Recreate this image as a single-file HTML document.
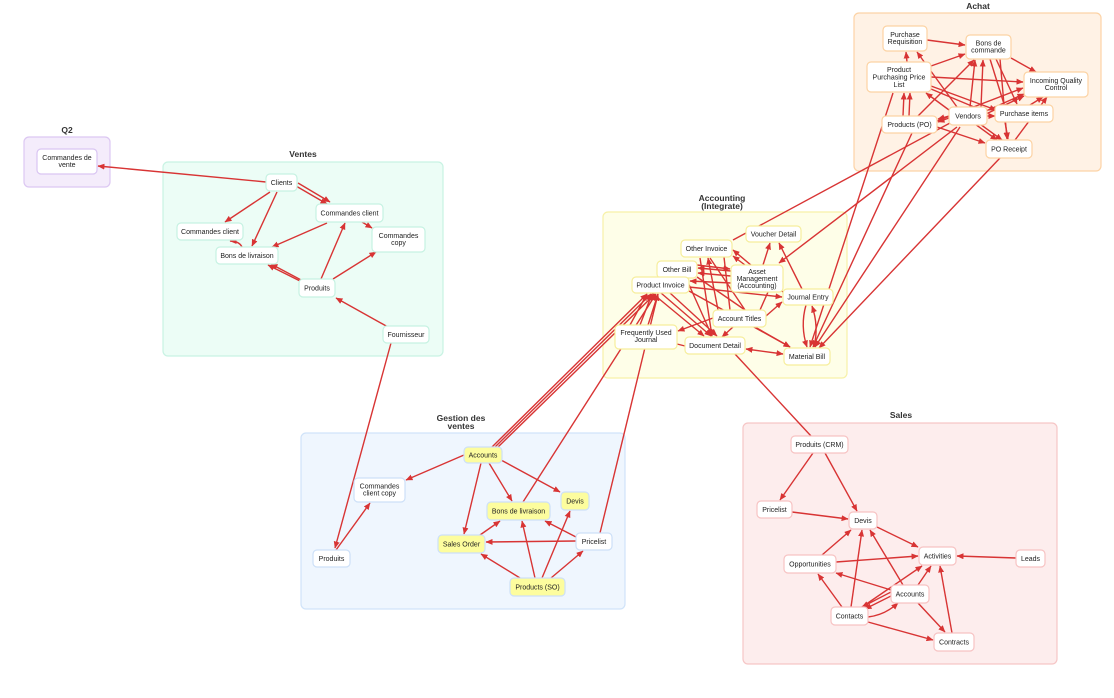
<!DOCTYPE html>
<html><head><meta charset="utf-8">
<style>
html,body{margin:0;padding:0;background:#fff;}
svg{display:block;}
text{font-family:"Liberation Sans",Arial,sans-serif;}
.n{font-size:7px;fill:#222;text-anchor:middle;}
.t{font-size:8.5px;font-weight:bold;fill:#333;text-anchor:middle;}
.e path{fill:none;stroke:#d83434;stroke-width:1.4;}
</style></head>
<body>
<svg width="1114" height="698" viewBox="0 0 1114 698" xmlns="http://www.w3.org/2000/svg">
<defs>
<marker id="a" markerUnits="userSpaceOnUse" markerWidth="7" markerHeight="6" refX="6.5" refY="3" orient="auto"><path d="M0,0 L7,3 L0,6 Z" fill="#d83434"/></marker>
<marker id="s" markerUnits="userSpaceOnUse" markerWidth="7" markerHeight="6" refX="0.5" refY="3" orient="auto"><path d="M7,0 L0,3 L7,6 Z" fill="#d83434"/></marker>
</defs>

<!-- groups -->
<rect x="24" y="137" width="86" height="50" rx="5" fill="#f4ecfb" stroke="#dcc7f2" stroke-width="1.2"/>
<text class="t" x="67" y="133">Q2</text>
<rect x="163" y="162" width="280" height="194" rx="5" fill="#ecfdf6" stroke="#c8f3e3" stroke-width="1.2"/>
<text class="t" x="303" y="157">Ventes</text>
<rect x="854" y="13" width="247" height="158" rx="5" fill="#fff2e5" stroke="#fcd3a6" stroke-width="1.2"/>
<text class="t" x="978" y="9">Achat</text>
<rect x="603" y="212" width="244" height="166" rx="5" fill="#fefee8" stroke="#f7f1a8" stroke-width="1.2"/>
<text class="t" x="722" y="201">Accounting</text>
<text class="t" x="722" y="209">(Integrate)</text>
<rect x="301" y="433" width="324" height="176" rx="5" fill="#eff6fe" stroke="#d0e3f9" stroke-width="1.2"/>
<text class="t" x="461" y="421">Gestion des</text>
<text class="t" x="461" y="429">ventes</text>
<rect x="743" y="423" width="314" height="241" rx="5" fill="#fdeded" stroke="#f6c6c6" stroke-width="1.2"/>
<text class="t" x="901" y="418">Sales</text>

<!-- edges with arrow -->
<g class="e" marker-end="url(#a)">
<!-- Ventes / Q2 -->
<path d="M266,182 L98,166"/>
<path d="M296,186 L327,204"/>
<path d="M298,183 L330,202"/>
<path d="M270,192 L225,222"/>
<path d="M277,192 L252,246"/>
<path d="M327,223 L272,247"/>
<path d="M362,222 L372,228"/>
<path d="M242,247 Q239,241 230,241"/>
<path d="M300,281 L268,265"/>
<path d="M303,281 L271,264"/>
<path d="M321,279 L345,223"/>
<path d="M333,279 L376,252"/>
<path d="M388,327 L336,298"/>
<path d="M391,343 L335,548"/>
<!-- Gestion -->
<path d="M464,455 L406,480"/>
<path d="M481,463 L464,534"/>
<path d="M489,463 L512,501"/>
<path d="M501,460 L560,492"/>
<path d="M480,535 L500,521"/>
<path d="M576,541 L486,542"/>
<path d="M576,537 L545,521"/>
<path d="M520,578 L481,554"/>
<path d="M535,578 L522,521"/>
<path d="M542,578 L570,511"/>
<path d="M551,578 L583,551"/>
<path d="M336,550 L370,503"/>
<path d="M492,447 L647,294"/>
<path d="M495,447 L651,294"/>
<path d="M498,447 L655,294"/>
<path d="M523,502 L656,294"/>
<path d="M600,533 L658,294"/>
<!-- Accounting -->
<path d="M763,265 L770,243"/>
<path d="M802,289 L779,243"/>
<path d="M783,292 L733,250"/>
<path d="M745,265 L733,256"/>
<path d="M731,271 L698,268"/>
<path d="M731,276 L698,273"/>
<path d="M697,265 L730,269"/>
<path d="M731,283 L690,281"/>
<path d="M689,287 L782,297"/>
<path d="M652,293 L704,336"/>
<path d="M661,293 L711,336"/>
<path d="M670,293 L717,336"/>
<path d="M689,291 L790,347"/>
<path d="M713,318 L678,331"/>
<path d="M733,327 L722,337"/>
<path d="M755,327 L790,347"/>
<path d="M766,316 L782,302"/>
<path d="M630,325 L647,294"/>
<path d="M640,325 L652,294"/>
<path d="M648,325 L658,294"/>
<path d="M806,305 Q800,326 807,347"/>
<path d="M814,347 Q819,326 812,306"/>
<path d="M686,278 L712,336"/>
<path d="M700,258 L712,336"/>
<path d="M718,310 L708,258"/>
<!-- Achat -> Accounting -->
<path d="M957,127 L779,263"/>
<path d="M893,93 L810,347"/>
<path d="M912,133 L813,347"/>
<path d="M960,127 L815,347"/>
<path d="M1000,158 L819,348"/>
<!-- Achat internal -->
<path d="M927,40 L965,45"/>
<path d="M907,62 L906,52"/>
<path d="M931,66 L965,54"/>
<path d="M931,77 L1023,82"/>
<path d="M931,86 L996,110"/>
<path d="M957,107 L917,52"/>
<path d="M949,110 L926,93"/>
<path d="M949,116 L938,119"/>
<path d="M949,118 L938,122"/>
<path d="M970,107 L975,60"/>
<path d="M981,107 L983,60"/>
<path d="M986,116 L995,116"/>
<path d="M975,124 L997,140"/>
<path d="M980,124 L1002,140"/>
<path d="M986,111 L1024,94"/>
<path d="M986,114 L1024,96"/>
<path d="M918,116 L974,60"/>
<path d="M903,116 L904,93"/>
<path d="M909,116 L910,93"/>
<path d="M937,127 L985,143"/>
<path d="M937,121 L1023,88"/>
<path d="M1030,105 L1043,97"/>
<path d="M1011,58 L1036,72"/>
<path d="M996,59 L1017,104"/>
<path d="M1000,59 L1007,139"/>
<path d="M1005,122 L1008,139"/>
<path d="M1015,140 L1047,97"/>
<!-- Sales -->
<path d="M813,453 L780,500"/>
<path d="M825,453 L857,511"/>
<path d="M792,512 L848,519"/>
<path d="M877,527 L918,547"/>
<path d="M822,555 L851,530"/>
<path d="M836,562 L918,556"/>
<path d="M1016,558 L957,556"/>
<path d="M891,590 L836,573"/>
<path d="M903,585 L870,530"/>
<path d="M918,585 L931,566"/>
<path d="M891,592 L862,607"/>
<path d="M893,595 L865,609"/>
<path d="M918,603 L945,632"/>
<path d="M842,607 L818,574"/>
<path d="M851,607 L862,530"/>
<path d="M862,607 L922,566"/>
<path d="M868,617 Q885,615 898,603"/>
<path d="M868,622 L933,640"/>
<path d="M952,633 L940,566"/>
</g>
<!-- edges without arrow / double -->
<g class="e">
<path d="M746,349 L783,354" marker-end="url(#a)" marker-start="url(#s)"/>
<path d="M677,344 L685,346"/>
<path d="M710,258 L745,310"/>
<path d="M724,257 L730,310"/>
<path d="M697,277 L745,310"/>
<path d="M768,292 L760,310"/>
<path d="M735,354 L811,436"/>
<path d="M950,123 L733,240"/>
<path d="M990,59 L1004,104"/>
<path d="M931,89 L986,112"/>
</g>

<!-- nodes -->
<g stroke-width="1.2">
<rect x="37" y="149" width="60" height="25" rx="4" fill="#fff" stroke="#d9c5f2"/>

<g fill="#fff" stroke="#c6f2e2">
<rect x="266" y="174" width="31" height="17" rx="4"/>
<rect x="316" y="204" width="67" height="18" rx="4"/>
<rect x="177" y="223" width="66" height="17" rx="4"/>
<rect x="372" y="227" width="53" height="25" rx="4"/>
<rect x="216" y="247" width="62" height="17" rx="4"/>
<rect x="299" y="279" width="36" height="18" rx="4"/>
<rect x="383" y="326" width="46" height="17" rx="4"/>
</g>

<g fill="#fff" stroke="#fcd3a3">
<rect x="883" y="26" width="44" height="25" rx="4"/>
<rect x="966" y="35" width="45" height="24" rx="4"/>
<rect x="867" y="62" width="64" height="30" rx="4"/>
<rect x="1024" y="72" width="64" height="25" rx="4"/>
<rect x="949" y="107" width="38" height="18" rx="4"/>
<rect x="995" y="105" width="58" height="17" rx="4"/>
<rect x="882" y="116" width="55" height="17" rx="4"/>
<rect x="986" y="140" width="46" height="18" rx="4"/>
</g>

<g fill="#fff" stroke="#f6ee9c">
<rect x="746" y="226" width="55" height="16" rx="4"/>
<rect x="681" y="240" width="51" height="17" rx="4"/>
<rect x="657" y="261" width="40" height="17" rx="4"/>
<rect x="731" y="265" width="52" height="27" rx="4"/>
<rect x="632" y="277" width="57" height="16" rx="4"/>
<rect x="783" y="289" width="50" height="16" rx="4"/>
<rect x="713" y="310" width="53" height="17" rx="4"/>
<rect x="615" y="325" width="62" height="24" rx="4"/>
<rect x="685" y="337" width="60" height="17" rx="4"/>
<rect x="784" y="348" width="46" height="17" rx="4"/>
</g>

<g stroke="#cde0f8">
<rect x="464" y="447" width="38" height="16" rx="4" fill="#fdfd9e"/>
<rect x="354" y="478" width="51" height="24" rx="4" fill="#fff"/>
<rect x="561" y="492" width="28" height="18" rx="4" fill="#fdfd9e"/>
<rect x="487" y="502" width="63" height="18" rx="4" fill="#fdfd9e"/>
<rect x="438" y="535" width="47" height="18" rx="4" fill="#fdfd9e"/>
<rect x="576" y="533" width="36" height="17" rx="4" fill="#fff"/>
<rect x="313" y="550" width="37" height="17" rx="4" fill="#fff"/>
<rect x="510" y="578" width="55" height="18" rx="4" fill="#fdfd9e"/>
</g>

<g fill="#fff" stroke="#f7c3c3">
<rect x="791" y="436" width="57" height="17" rx="4"/>
<rect x="757" y="501" width="35" height="17" rx="4"/>
<rect x="849" y="512" width="28" height="17" rx="4"/>
<rect x="919" y="547" width="37" height="18" rx="4"/>
<rect x="1016" y="550" width="29" height="17" rx="4"/>
<rect x="784" y="555" width="52" height="18" rx="4"/>
<rect x="891" y="585" width="38" height="18" rx="4"/>
<rect x="831" y="607" width="37" height="18" rx="4"/>
<rect x="934" y="633" width="40" height="18" rx="4"/>
</g>
</g>

<!-- node labels -->
<g class="n">
<text x="67" y="160">Commandes de</text><text x="67" y="167">vente</text>

<text x="281.5" y="185">Clients</text>
<text x="349.5" y="215.5">Commandes client</text>
<text x="210" y="234">Commandes client</text>
<text x="398.5" y="238">Commandes</text><text x="398.5" y="245">copy</text>
<text x="247" y="258">Bons de livraison</text>
<text x="317" y="290.5">Produits</text>
<text x="406" y="337">Fournisseur</text>

<text x="905" y="37">Purchase</text><text x="905" y="44">Requisition</text>
<text x="988.5" y="45.5">Bons de</text><text x="988.5" y="52.5">commande</text>
<text x="899" y="72">Product</text><text x="899" y="79.5">Purchasing Price</text><text x="899" y="87">List</text>
<text x="1056" y="83">Incoming Quality</text><text x="1056" y="90">Control</text>
<text x="968" y="118.5">Vendors</text>
<text x="1024" y="116">Purchase items</text>
<text x="909.5" y="127">Products (PO)</text>
<text x="1009" y="151.5">PO Receipt</text>

<text x="773.5" y="236.5">Voucher Detail</text>
<text x="706.5" y="251">Other Invoice</text>
<text x="677" y="272">Other Bill</text>
<text x="757" y="274">Asset</text><text x="757" y="281">Management</text><text x="757" y="288">(Accounting)</text>
<text x="660.5" y="287.5">Product Invoice</text>
<text x="808" y="299.5">Journal Entry</text>
<text x="739.5" y="321">Account Titles</text>
<text x="646" y="335">Frequently Used</text><text x="646" y="342">Journal</text>
<text x="715" y="348">Document Detail</text>
<text x="807" y="359">Material Bill</text>

<text x="483" y="457.5">Accounts</text>
<text x="379.5" y="488.5">Commandes</text><text x="379.5" y="495.5">client  copy</text>
<text x="575" y="503.5">Devis</text>
<text x="518.5" y="513.5">Bons de livraison</text>
<text x="461.5" y="546.5">Sales Order</text>
<text x="594" y="544">Pricelist</text>
<text x="331.5" y="561">Produits</text>
<text x="537.5" y="589.5">Products (SO)</text>

<text x="819.5" y="447">Produits (CRM)</text>
<text x="774.5" y="512">Pricelist</text>
<text x="863" y="523">Devis</text>
<text x="937.5" y="558.5">Activities</text>
<text x="1030.5" y="561">Leads</text>
<text x="810" y="566.5">Opportunities</text>
<text x="910" y="596.5">Accounts</text>
<text x="849.5" y="618.5">Contacts</text>
<text x="954" y="644.5">Contracts</text>
</g>
</svg>
</body></html>
